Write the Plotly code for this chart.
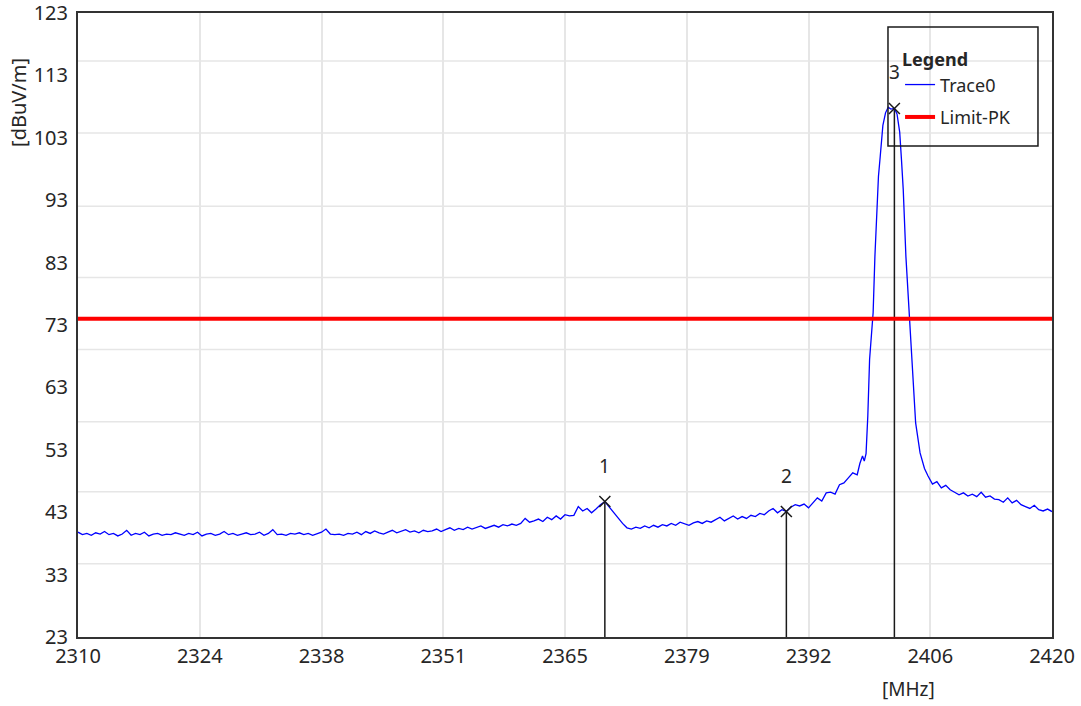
import plotly.graph_objects as go

# ---------------- data ----------------
# Trace0, 2310..2398 MHz in 0.5 MHz steps
freq_a = [2310.0 + 0.5 * i for i in range(177)]
level_a = [
    39.8, 39.4, 39.6, 39.3, 39.7, 39.5, 39.9, 39.4, 39.6, 39.2,
    39.5, 40.1, 39.3, 39.6, 39.4, 39.8, 39.2, 39.5, 39.6, 39.3,
    39.5, 39.4, 39.7, 39.5, 39.3, 39.6, 39.4, 39.8, 39.2, 39.5,
    39.6, 39.3, 39.5, 39.9, 39.4, 39.6, 39.3, 39.5, 39.7, 39.4,
    39.5, 39.8, 39.3, 39.6, 40.2, 39.4, 39.5, 39.3, 39.6, 39.5,
    39.7, 39.4, 39.6, 39.3, 39.5, 39.8, 40.3, 39.5, 39.4, 39.5,
    39.3, 39.6, 39.5, 39.8, 39.4, 39.9, 39.6, 40.0, 39.7, 39.5,
    39.8, 40.1, 39.7, 39.9, 40.2, 39.8, 40.0, 39.7, 40.1, 39.9,
    40.0, 40.3, 39.9, 40.2, 40.5, 40.1, 40.4, 40.2, 40.6, 40.3,
    40.5, 40.8, 40.4, 40.7, 40.9, 40.6, 41.0, 40.8, 41.1, 40.9,
    41.2, 42.0, 41.4, 41.6, 41.9, 41.5, 42.2, 41.8, 42.4, 41.9,
    42.6, 42.4, 42.5, 43.9, 43.2, 43.6, 42.9, 43.5, 44.2, 44.7,
    43.8, 43.0, 42.0, 41.2, 40.5, 40.3, 40.6, 40.4, 40.8, 40.5,
    40.9, 40.6, 41.0, 40.8, 41.2, 40.9, 41.4, 41.1, 40.9, 41.3,
    41.5, 41.2, 41.6, 41.4, 41.8, 42.2, 41.6, 42.0, 42.4, 41.9,
    42.3, 42.0, 42.5, 42.3, 42.8, 42.6, 43.2, 43.6, 42.9, 43.4,
    43.1, 43.8, 44.2, 44.0, 44.3, 43.7, 44.5, 45.3, 44.8, 46.1,
    46.2, 45.9, 47.4, 47.7, 48.5, 49.3, 49.0,
]
# Trace0, carrier region
freq_b = [2398.3, 2398.6, 2398.8, 2399.0, 2399.2, 2399.4, 2399.6, 2399.8,
          2400.0, 2400.2, 2400.4, 2400.6, 2400.9, 2401.2, 2401.5, 2401.8,
          2402.2, 2402.5, 2402.8, 2403.0, 2403.2, 2403.5, 2403.9, 2404.2,
          2404.6, 2405.1, 2405.6, 2406.0]
level_b = [50.8, 52.0, 51.2, 52.4, 58.5, 67.5, 71.5, 75.0,
           84.0, 92.0, 96.8, 100.0, 105.0, 107.0, 107.9, 107.6,
           107.7, 106.8, 103.9, 99.5, 94.7, 84.0, 74.4, 65.4,
           57.3, 52.5, 50.0, 48.8]
# Trace0, 2406.5..2420 MHz
freq_c = [2406.5 + 0.5 * i for i in range(28)]
level_c = [47.5, 47.9, 46.9, 47.3, 46.6, 46.2, 45.8, 46.1, 45.6, 45.9,
           45.5, 46.2, 45.4, 45.6, 45.1, 45.0, 44.6, 45.3, 44.5, 44.9,
           44.2, 43.9, 43.6, 44.1, 43.4, 43.2, 43.5, 43.1]

trace_freq = freq_a + freq_b + freq_c
trace_level = level_a + level_b + level_c

limit_freq = [2310, 2420]
limit_level = [74, 74]

marker_ids = ["1", "2", "3"]
marker_freq = [2369.5, 2390.0, 2402.2]
marker_level = [44.7, 43.1, 107.7]

x_range = [2310, 2420]
y_range = [23, 123]
x_tickvals = [2310 + 13.75 * i for i in range(9)]
x_ticktext = ["2310", "2324", "2338", "2351", "2365", "2379", "2392", "2406", "2420"]
y_tickvals = [23, 33, 43, 53, 63, 73, 83, 93, 103, 113, 123]
y_ticktext = [str(v) for v in y_tickvals]
# horizontal grid positions (style, not aligned to labels in the original)
y_grid = [34.72, 46.27, 57.51, 69.07, 80.63, 92.03, 103.75, 115.30]

FONT = "Noto Sans"
TXT = "#262626"
GRID = "#e6e6e6"

fig = go.Figure()

# marker drop lines
for f, v in zip(marker_freq, marker_level):
    fig.add_trace(go.Scatter(x=[f, f], y=[y_range[0], v], mode="lines",
                             line=dict(color="#1a1a1a", width=1.5),
                             showlegend=False, hoverinfo="skip"))

fig.add_trace(go.Scatter(x=trace_freq, y=trace_level, mode="lines", name="Trace0",
                         line=dict(color="#0000ff", width=1.3),
                         legendgroup="a"))
fig.add_trace(go.Scatter(x=limit_freq, y=limit_level, mode="lines", name="Limit-PK",
                         line=dict(color="#ff0000", width=4),
                         legendgroup="b"))

fig.add_trace(go.Scatter(x=marker_freq, y=marker_level, mode="markers",
                         marker=dict(symbol="x-thin", size=11,
                                     line=dict(color="#1a1a1a", width=1.5)),
                         showlegend=False, hoverinfo="skip"))

annotations = [
    dict(text="[dBuV/m]", xref="paper", yref="paper", x=-0.0605, y=0.856,
         xanchor="center", yanchor="middle", textangle=-90, showarrow=False,
         font=dict(family=FONT, size=20, color=TXT)),
    dict(text="[MHz]", xref="paper", yref="paper", x=0.853, y=-0.083,
         xanchor="center", yanchor="middle", showarrow=False,
         font=dict(family=FONT, size=19, color=TXT)),
]
for lab, f, v in zip(marker_ids, marker_freq, marker_level):
    annotations.append(dict(text=lab, x=f, y=v, xref="x", yref="y", showarrow=False,
                            yshift=36, font=dict(family=FONT, size=19, color=TXT)))

shapes = []
for g in y_grid:
    shapes.append(dict(type="line", xref="paper", yref="y", x0=0, x1=1, y0=g, y1=g,
                       line=dict(color=GRID, width=1.5), layer="below"))
# legend frame
shapes.append(dict(type="rect", xref="paper", yref="paper",
                   x0=0.8316, x1=0.9856, y0=0.7869, y1=0.9776,
                   line=dict(color="#1a1a1a", width=1.5), layer="above"))

fig.update_layout(
    width=1081, height=706,
    margin=dict(l=78, r=29, t=13, b=69, autoexpand=False),
    paper_bgcolor="white", plot_bgcolor="white",
    font=dict(family=FONT, size=20, color=TXT),
    showlegend=True,
    legend=dict(x=0.844, y=0.952, xanchor="left", yanchor="top",
                bgcolor="rgba(0,0,0,0)", borderwidth=0,
                font=dict(family=FONT, size=18, color=TXT),
                title=dict(text="<b>Legend</b>", font=dict(family=FONT, size=18, color=TXT)),
                tracegroupgap=6, traceorder="grouped"),
    xaxis=dict(range=x_range, tickvals=x_tickvals, ticktext=x_ticktext,
               showgrid=True, gridcolor=GRID, gridwidth=1.5, zeroline=False,
               showline=True, linecolor="#333333", linewidth=2, mirror=True,
               ticks="", automargin=False, ticklabeloverflow="allow",
               tickfont=dict(family=FONT, size=20, color=TXT)),
    yaxis=dict(range=y_range, tickvals=y_tickvals, ticktext=y_ticktext,
               showgrid=False, zeroline=False,
               showline=True, linecolor="#333333", linewidth=2, mirror=True,
               ticks="", ticklabelstandoff=4, automargin=False, ticklabeloverflow="allow",
               tickfont=dict(family=FONT, size=20, color=TXT)),
    shapes=shapes,
    annotations=annotations,
)

fig.write_html("out.html", config={"displayModeBar": False},
               post_script="document.body.style.margin='0';document.body.style.overflow='hidden';")
